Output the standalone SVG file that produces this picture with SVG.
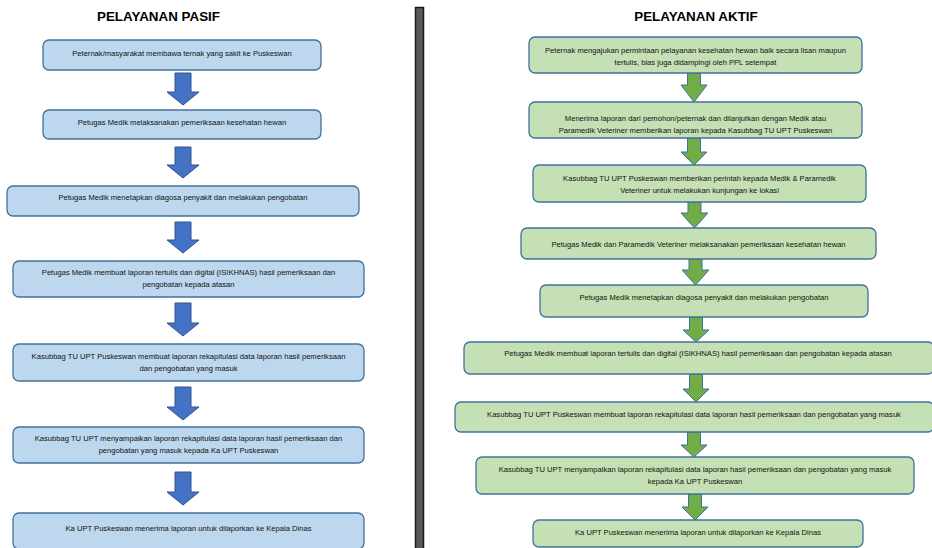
<svg xmlns="http://www.w3.org/2000/svg" width="932" height="548" viewBox="0 0 932 548">
<style>
.bb{fill:#BDD7EE;stroke:#41719C;stroke-width:1.3}
.gb{fill:#C5E0B4;stroke:#41719C;stroke-width:1.3}
.ba{fill:#4472C4;stroke:#2F528F;stroke-width:1}
.ga{fill:#70AD47;stroke:#41719C;stroke-width:1}
.t{font-family:"Liberation Sans",Arial,sans-serif;font-size:7.6px;fill:#111;text-anchor:middle}
.h{font-family:"Liberation Sans",Arial,sans-serif;font-size:13.4px;font-weight:bold;fill:#000;text-anchor:middle}
</style>
<rect width="932" height="548" fill="#fff"/>
<g id="divider"><rect x="415.5" y="7.5" width="8" height="542" fill="#595959" stroke="#1a1a1a" stroke-width="1.5"/></g>
<g id="title-pasif"><text class="h" x="158.5" y="20.5">PELAYANAN PASIF</text></g>
<g id="title-aktif"><text class="h" x="696" y="20.5">PELAYANAN AKTIF</text></g>

<g id="connectors">
<polygon class="ba" points="175,73 191,73 191,92 199,92 183,105 167,92 175,92"/>
<polygon class="ba" points="175,147 191,147 191,165 199,165 183,178 167,165 175,165"/>
<polygon class="ba" points="175,222 191,222 191,240 199,240 183,253 167,240 175,240"/>
<polygon class="ba" points="175,303 191,303 191,323 199,323 183,336 167,323 175,323"/>
<polygon class="ba" points="175,387 191,387 191,407 199,407 183,420 167,407 175,407"/>
<polygon class="ba" points="175,472 191,472 191,492 199,492 183,505 167,492 175,492"/>

<polygon class="ga" points="687.5,73 700.5,73 700.5,85 707,85 694,102 681,85 687.5,85"/>
<polygon class="ga" points="687.5,138 700.5,138 700.5,152 707,152 694,165 681,152 687.5,152"/>
<polygon class="ga" points="688,202 701,202 701,213 708,213 694.5,228 681,213 688,213"/>
<polygon class="ga" points="689,259 702,259 702,270 709,270 695.5,285 682,270 689,270"/>
<polygon class="ga" points="689.5,317 702.5,317 702.5,330 709,330 696,342 683,330 689.5,330"/>
<polygon class="ga" points="689.5,374 702.5,374 702.5,389 709,389 696,402 683,389 689.5,389"/>
<polygon class="ga" points="687.5,432 700.5,432 700.5,445 707,445 694,457 681,445 687.5,445"/>
<polygon class="ga" points="688.5,494 701.5,494 701.5,507 708,507 695,520 682,507 688.5,507"/>
</g>

<g id="p1"><rect class="bb" x="43" y="40" width="278" height="30" rx="6"/><text class="t" x="182" y="56">Peternak/masyarakat membawa ternak yang sakit ke Puskeswan</text></g>
<g id="p2"><rect class="bb" x="43" y="110" width="278" height="29" rx="6"/><text class="t" x="182" y="125">Petugas Medik melaksanakan pemeriksaan kesehatan hewan</text></g>
<g id="p3"><rect class="bb" x="7" y="186" width="352" height="30" rx="6"/><text class="t" x="183" y="200">Petugas Medik menetapkan diagosa penyakit dan melakukan pengobatan</text></g>
<g id="p4"><rect class="bb" x="13" y="261" width="351" height="36" rx="6"/><text class="t" x="188.5" y="275">Petugas Medik membuat laporan tertulis dan digital (ISIKHNAS) hasil pemeriksaan dan</text><text class="t" x="188.5" y="287">pengobatan kepada atasan</text></g>
<g id="p5"><rect class="bb" x="13" y="344" width="351" height="37" rx="6"/><text class="t" x="188.5" y="359">Kasubbag TU UPT Puskeswan membuat laporan rekapitulasi data laporan hasil pemeriksaan</text><text class="t" x="188.5" y="371">dan pengobatan yang masuk</text></g>
<g id="p6"><rect class="bb" x="13" y="427" width="351" height="36" rx="6"/><text class="t" x="188.5" y="441">Kasubbag TU UPT menyampaikan laporan rekapitulasi data laporan hasil pemeriksaan dan</text><text class="t" x="188.5" y="453">pengobatan yang masuk kepada Ka UPT Puskeswan</text></g>
<g id="p7"><rect class="bb" x="13" y="513" width="351" height="36" rx="6"/><text class="t" x="188.5" y="531">Ka UPT Puskeswan menerima laporan untuk dilaporkan ke Kepala Dinas</text></g>

<g id="a1"><rect class="gb" x="529" y="37" width="333" height="36" rx="6"/><text class="t" x="695.5" y="53">Peternak mengajukan permintaan pelayanan kesehatan hewan baik secara lisan maupun</text><text class="t" x="695.5" y="65">tertulis, bias juga didampingi oleh PPL setempat</text></g>
<g id="a2"><rect class="gb" x="529" y="102" width="333" height="36" rx="6"/><text class="t" x="695.5" y="121">Menerima laporan dari pemohon/peternak dan dilanjutkan dengan Medik atau</text><text class="t" x="695.5" y="133">Paramedik Veteriner memberikan laporan kepada Kasubbag TU UPT Puskeswan</text></g>
<g id="a3"><rect class="gb" x="533" y="165" width="333" height="37" rx="6"/><text class="t" x="699.5" y="181">Kasubbag TU UPT Puskeswan memberikan perintah kepada Medik &amp; Paramedik</text><text class="t" x="699.5" y="193">Veteriner untuk melakukan kunjungan ke lokasi</text></g>
<g id="a4"><rect class="gb" x="521" y="228" width="355" height="31" rx="6"/><text class="t" x="698.5" y="247">Petugas Medik dan Paramedik Veteriner melaksanakan pemeriksaan kesehatan hewan</text></g>
<g id="a5"><rect class="gb" x="540" y="285" width="328" height="32" rx="6"/><text class="t" x="704" y="300">Petugas Medik menetapkan diagosa penyakit dan melakukan pengobatan</text></g>
<g id="a6"><rect class="gb" x="464" y="342" width="470" height="32" rx="6"/><text class="t" x="698" y="356">Petugas Medik membuat laporan tertulis dan digital (ISIKHNAS) hasil pemeriksaan dan pengobatan kepada atasan</text></g>
<g id="a7"><rect class="gb" x="455" y="402" width="479" height="30" rx="6"/><text class="t" x="694" y="417">Kasubbag TU UPT Puskeswan membuat laporan rekapitulasi data laporan hasil pemeriksaan dan pengobatan yang masuk</text></g>
<g id="a8"><rect class="gb" x="476" y="457" width="438" height="37" rx="6"/><text class="t" x="695" y="472">Kasubbag TU UPT menyampaikan laporan rekapitulasi data laporan hasil pemeriksaan dan pengobatan yang masuk</text><text class="t" x="695" y="484">kepada Ka UPT Puskeswan</text></g>
<g id="a9"><rect class="gb" x="533" y="520" width="330" height="27" rx="6"/><text class="t" x="698" y="535">Ka UPT Puskeswan menerima laporan untuk dilaporkan ke Kepala Dinas</text></g>
</svg>
